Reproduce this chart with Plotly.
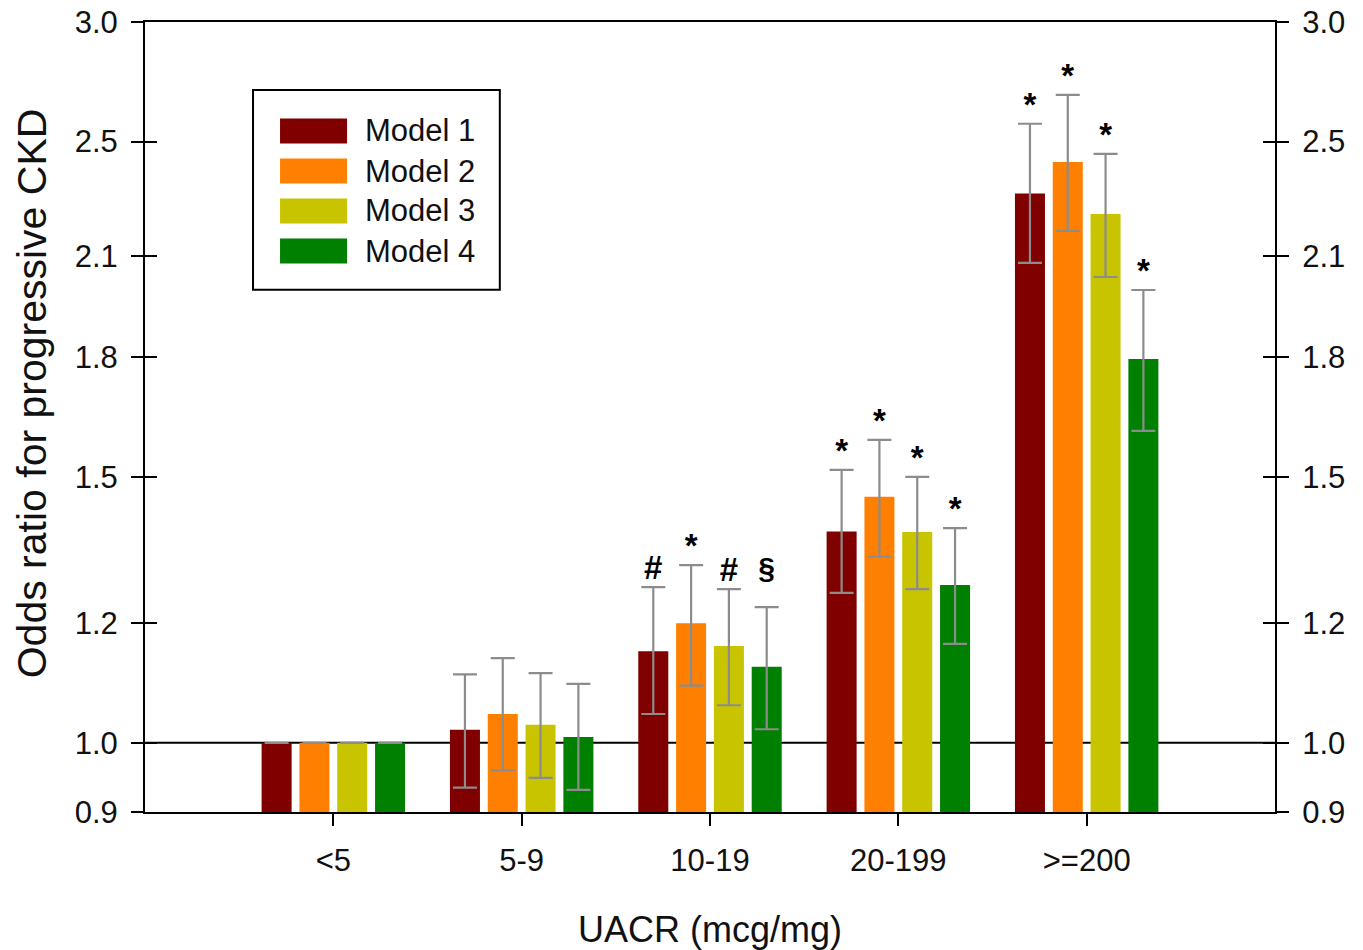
import math
import plotly.graph_objects as go

categories = ["<5", "5-9", "10-19", "20-199", ">=200"]
models = ["Model 1", "Model 2", "Model 3", "Model 4"]
colors = ["#800000", "#FF8000", "#C8C400", "#008000"]

m1_or = [1.00, 1.020, 1.150, 1.380, 2.310]
m1_lo = [None, 0.934, 1.045, 1.257, 2.078]
m1_hi = [None, 1.110, 1.268, 1.516, 2.569]
m1_sig = ["", "", "#", "*", "*"]

m2_or = [1.00, 1.045, 1.200, 1.455, 2.424]
m2_lo = [None, 0.959, 1.091, 1.328, 2.182]
m2_hi = [None, 1.138, 1.311, 1.587, 2.685]
m2_sig = ["", "", "*", "*", "*"]

m3_or = [1.00, 1.028, 1.159, 1.379, 2.239]
m3_lo = [None, 0.948, 1.059, 1.264, 2.034]
m3_hi = [None, 1.112, 1.264, 1.500, 2.454]
m3_sig = ["", "", "#", "*", "*"]

m4_or = [1.00, 1.009, 1.123, 1.272, 1.795]
m4_lo = [None, 0.931, 1.021, 1.163, 1.609]
m4_hi = [None, 1.094, 1.230, 1.387, 1.994]
m4_sig = ["", "", "§", "*", "*"]

y_ticks = [0.9, 1.0, 1.2, 1.5, 1.8, 2.1, 2.5, 3.0]
y_tick_text = ["0.9", "1.0", "1.2", "1.5", "1.8", "2.1", "2.5", "3.0"]
y_range = [0.9, 3.0]
ref_value = 1.0

series = [
    (m1_or, m1_lo, m1_hi, m1_sig),
    (m2_or, m2_lo, m2_hi, m2_sig),
    (m3_or, m3_lo, m3_hi, m3_sig),
    (m4_or, m4_lo, m4_hi, m4_sig),
]

FONT = "Arial, Liberation Sans, Helvetica, sans-serif"
TXT = "#111111"
fig = go.Figure()

for name, col, (orv, lo, hi, sig) in zip(models, colors, series):
    plus = [None if h is None else h - v for v, h in zip(orv, hi)]
    minus = [None if l is None else v - l for v, l in zip(orv, lo)]
    fig.add_trace(go.Bar(
        x=categories, y=orv, name=name, marker=dict(color=col, line=dict(width=0)),
        offsetgroup=name, alignmentgroup="g", showlegend=False,
        error_y=dict(type="data", symmetric=False, array=plus, arrayminus=minus,
                     color="#8C8C8C", thickness=2.2, width=12),
    ))


def sig_label(s):
    if s == "§":  # glyph has a descender: lift it clear of the cap
        return "<b><sup>§</sup></b>"
    return f"<b>{s}</b>"


for name, (orv, lo, hi, sig) in zip(models, series):
    idx = [i for i, s in enumerate(sig) if s]
    fig.add_trace(go.Scatter(
        x=[categories[i] for i in idx], y=[hi[i] for i in idx], mode="text",
        text=[sig_label(sig[i]) for i in idx],
        textposition="top center",
        textfont=dict(family=FONT, size=[43 if sig[i] == "§" else 33 for i in idx], color="black"),
        offsetgroup=name, alignmentgroup="g", showlegend=False, cliponaxis=False,
        hoverinfo="skip",
    ))

# invisible anchors so the extra tick axes are drawn
for ax in ["y2", "y3", "y4"]:
    fig.add_trace(go.Scatter(x=[categories[0]], y=[ref_value], yaxis=ax, mode="markers",
                             marker=dict(opacity=0, size=1), showlegend=False, hoverinfo="skip"))

lrange = [math.log10(y_range[0]), math.log10(y_range[1])]

yax_common = dict(type="log", range=lrange, tickvals=y_ticks, ticktext=y_tick_text,
                  showgrid=False, zeroline=False, ticklen=12, tickwidth=2, tickcolor="black",
                  automargin=False, ticklabeloverflow="allow",
                  tickfont=dict(family=FONT, size=31, color=TXT))

fig.update_layout(
    width=1363, height=950,
    paper_bgcolor="white", plot_bgcolor="white",
    margin=dict(l=145, r=88, t=22, b=138, autoexpand=False),
    barmode="group", bargap=0.197, bargroupgap=0.206,
    scattermode="group", scattergap=0.197,
    hovermode=False,
    xaxis=dict(type="category", range=[-1, 5], showline=True, linecolor="black", linewidth=2,
               mirror=True, ticks="outside", ticklen=12, tickwidth=2, tickcolor="black",
               showgrid=False, zeroline=False, ticklabelstandoff=8, automargin=False,
               tickfont=dict(family=FONT, size=31, color=TXT),
               title=dict(text="UACR (mcg/mg)", font=dict(family=FONT, size=36, color=TXT),
                          standoff=44)),
    yaxis=dict(**yax_common, side="left", ticks="outside", showline=True, linecolor="black",
               linewidth=2, showticklabels=True, ticklabelstandoff=7),
    yaxis2=dict(**yax_common, side="left", overlaying="y", ticks="inside", showticklabels=False,
                showline=False),
    yaxis3=dict(**yax_common, side="right", overlaying="y", ticks="outside", showticklabels=True,
                showline=True, linecolor="black", linewidth=2, ticklabelstandoff=7),
    yaxis4=dict(**yax_common, side="right", overlaying="y", ticks="inside", showticklabels=False,
                showline=False),
)

# y-axis title
fig.add_annotation(xref="paper", yref="paper", x=-0.1, y=0.530, text="Odds ratio for progressive CKD",
                   textangle=-90, showarrow=False, xanchor="center", yanchor="middle",
                   font=dict(family=FONT, size=41, color=TXT))

# reference line at OR = 1.0
fig.add_shape(type="line", xref="paper", x0=0, x1=1, yref="y", y0=ref_value, y1=ref_value,
              line=dict(color="black", width=2), layer="below")

# custom legend
lx0, lx1, ly_top, ly_bot = 0.0956, 0.314, 0.914, 0.661
fig.add_shape(type="rect", xref="paper", yref="paper", x0=lx0, x1=lx1, y0=ly_bot, y1=ly_top,
              line=dict(color="black", width=2), fillcolor="white", layer="above")
row_h = 40 / 790
sw_h = 25 / 790
first_row = (812 - 131) / 790
for i, (name, col) in enumerate(zip(models, colors)):
    yc = first_row - i * row_h
    fig.add_shape(type="rect", xref="paper", yref="paper", x0=0.1195, x1=0.1788,
                  y0=yc - sw_h / 2, y1=yc + sw_h / 2, line=dict(width=0), fillcolor=col,
                  layer="above")
    fig.add_annotation(xref="paper", yref="paper", x=0.1925, y=yc, text=name, showarrow=False,
                       xanchor="left", yanchor="middle",
                       font=dict(family=FONT, size=31, color=TXT))

# remove the browser's default body margin so the figure fills the window exactly
fig.write_html("out.html", config={"displayModeBar": False, "staticPlot": True},
               post_script="document.body.style.margin='0px';")
